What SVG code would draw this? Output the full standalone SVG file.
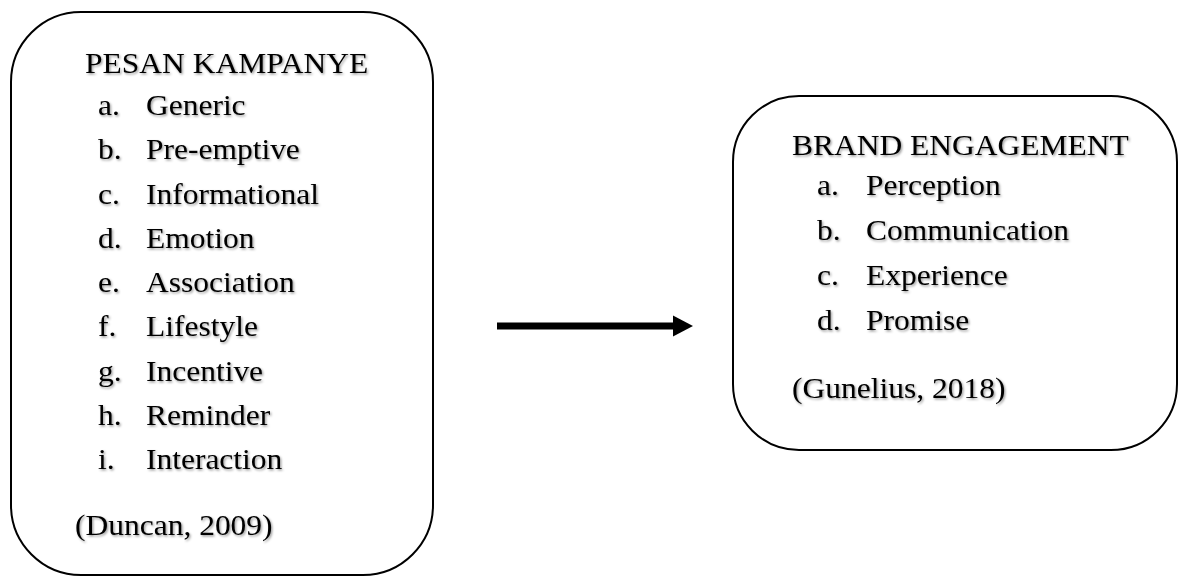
<svg xmlns="http://www.w3.org/2000/svg" width="1179" height="581" viewBox="0 0 1179 581">
  <defs>
    <filter id="sh" x="-5%" y="-20%" width="110%" height="150%">
      <feDropShadow dx="1.2" dy="1.5" stdDeviation="0.9" flood-color="#000" flood-opacity="0.4"/>
    </filter>
  </defs>
  <style>
    .box { fill: #fff; stroke: #000; stroke-width: 2; }
    .t { font-family: "Liberation Serif", "Times New Roman", serif; font-size: 30px; fill: #000; filter: url(#sh); }
  </style>
  <rect width="1179" height="581" fill="#fff"/>
  <g id="pesan-kampanye">
    <rect class="box" x="11" y="12" width="422" height="563" rx="70" ry="70"/>
    <g transform="scale(1.05 1)">
      <text class="t" x="81" y="73">PESAN KAMPANYE</text>
      <text class="t" x="93.3" y="115">a.</text><text class="t" x="139" y="115">Generic</text>
      <text class="t" x="93.3" y="159.3">b.</text><text class="t" x="139" y="159.3">Pre-emptive</text>
      <text class="t" x="93.3" y="203.6">c.</text><text class="t" x="139" y="203.6">Informational</text>
      <text class="t" x="93.3" y="247.9">d.</text><text class="t" x="139" y="247.9">Emotion</text>
      <text class="t" x="93.3" y="292.2">e.</text><text class="t" x="139" y="292.2">Association</text>
      <text class="t" x="93.3" y="336.5">f.</text><text class="t" x="139" y="336.5">Lifestyle</text>
      <text class="t" x="93.3" y="380.8">g.</text><text class="t" x="139" y="380.8">Incentive</text>
      <text class="t" x="93.3" y="425.1">h.</text><text class="t" x="139" y="425.1">Reminder</text>
      <text class="t" x="93.3" y="469.4">i.</text><text class="t" x="139" y="469.4">Interaction</text>
      <text class="t" x="71.4" y="535">(Duncan, 2009)</text>
    </g>
  </g>
  <g id="brand-engagement">
    <rect class="box" x="733" y="96" width="444" height="354" rx="66" ry="66"/>
    <g transform="scale(1.05 1)">
      <text class="t" x="754.3" y="155">BRAND ENGAGEMENT</text>
      <text class="t" x="778.1" y="195">a.</text><text class="t" x="824.8" y="195">Perception</text>
      <text class="t" x="778.1" y="240">b.</text><text class="t" x="824.8" y="240">Communication</text>
      <text class="t" x="778.1" y="285">c.</text><text class="t" x="824.8" y="285">Experience</text>
      <text class="t" x="778.1" y="330">d.</text><text class="t" x="824.8" y="330">Promise</text>
      <text class="t" x="754.3" y="398">(Gunelius, 2018)</text>
    </g>
  </g>
  <g id="connectors">
    <line x1="497" y1="326" x2="675" y2="326" stroke="#000" stroke-width="7"/>
    <polygon points="673,315.5 693,326 673,336.5" fill="#000"/>
  </g>
</svg>
